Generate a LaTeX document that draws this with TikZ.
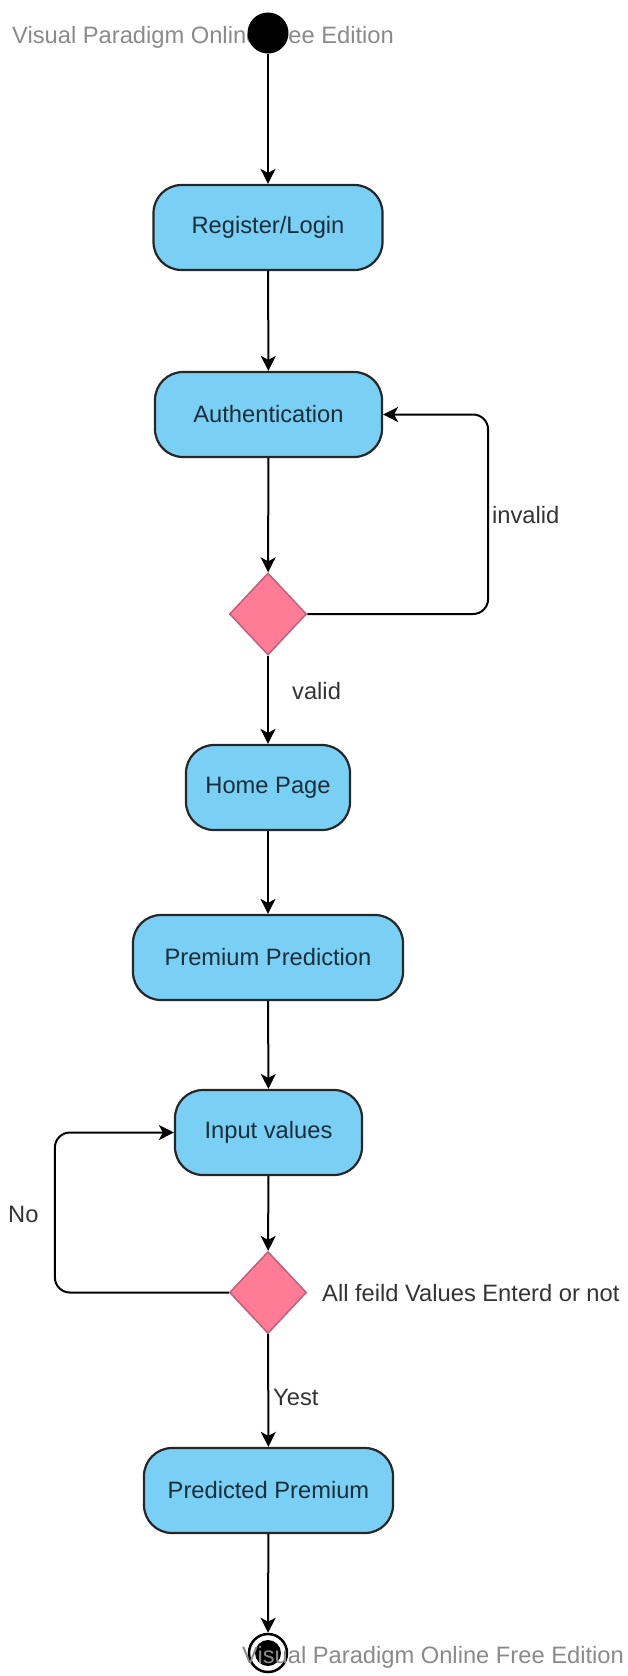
\documentclass[tikz,border=0pt]{standalone}
\usepackage{fontspec}
\setmainfont{Liberation Sans}
\usetikzlibrary{shapes.geometric,arrows.meta}
\definecolor{actfill}{HTML}{7ACFF5}
\definecolor{decfill}{HTML}{FF7B96}
\definecolor{decline}{HTML}{C0607A}
\definecolor{wmark}{HTML}{8A8A8A}
\definecolor{inktext}{HTML}{1A2E3A}
\definecolor{labtext}{HTML}{333333}
\tikzset{
  action/.style={draw=black!85, line width=2.2pt, fill=actfill, rounded corners=28pt,
    minimum height=85pt, inner sep=0pt, text=inktext,
    font=\fontsize{23.7}{28}\selectfont},
  decision/.style={diamond, draw=decline, line width=1.5pt, fill=decfill,
    minimum width=77pt, minimum height=82pt, inner sep=0pt},
  flow/.style={draw=black, line width=2pt,
    -{Stealth[length=15pt,width=15pt,inset=4pt]}},
  lab/.style={text=labtext, font=\fontsize{23.7}{28}\selectfont, inner sep=0pt, anchor=west},
  wm/.style={text=wmark, font=\fontsize{23.7}{28}\selectfont, inner sep=0pt, anchor=base west}
}
\begin{document}
\begin{tikzpicture}[x=1pt,y=-1pt]
  \useasboundingbox (0,0) rectangle (628,1676);

  % top watermark sits under the initial node
  \node[wm] (wmtop) at (12,43) {Visual Paradigm Online Free Edition};
  \node[circle, fill=black, minimum size=41pt, inner sep=0pt] (start) at (268,33) {};

  % activities
  \node[action, minimum width=229pt] (reg)  at (268,227.5) {Register/Login};
  \node[action, minimum width=227pt] (auth) at (268.5,414.5) {Authentication};
  \node[decision] (d1) at (268,614) {};
  \node[action, minimum width=164pt] (home) at (268,787.5) {Home Page};
  \node[action, minimum width=270pt] (prem) at (268,957.5) {Premium Prediction};
  \node[action, minimum width=187pt] (inp)  at (268.5,1132.5) {Input values};
  \node[decision] (d2) at (268,1292.5) {};
  \node[action, minimum width=249pt] (pred) at (268.5,1490.5) {Predicted Premium};

  % final node
  \node[circle, draw=black, line width=2.5pt, minimum size=38pt, inner sep=0pt] (end) at (268,1653) {};
  \fill[black] (end.center) circle (13pt);

  % main flow
  \draw[flow] (start) -- (reg);
  \draw[flow] (reg) -- (auth);
  \draw[flow] (auth) -- (d1);
  \draw[flow] (d1) -- (home);
  \draw[flow] (home) -- (prem);
  \draw[flow] (prem) -- (inp);
  \draw[flow] (inp) -- (d2);
  \draw[flow] (d2) -- (pred);
  \draw[flow] (pred) -- (end);

  % loops
  \draw[flow, rounded corners=15pt] (d1.east) -| ([xshift=105pt]auth.east) -- (auth.east);
  \draw[flow, rounded corners=15pt] (d2.west) -| ([xshift=-119pt]inp.west) -- (inp.west);

  % guard labels
  \node[lab] (linvalid) at (492,515) {invalid};
  \node[lab] (lvalid) at (292,691) {valid};
  \node[lab] (lno) at (8,1214) {No};
  \node[lab] (lcheck) at (322,1293) {All feild Values Enterd or not};
  \node[lab] (lyes) at (273,1397) {Yest};

  % bottom watermark lies over the final node
  \node[wm] (wmbot) at (242,1663) {Visual Paradigm Online Free Edition};
\end{tikzpicture}
\end{document}
